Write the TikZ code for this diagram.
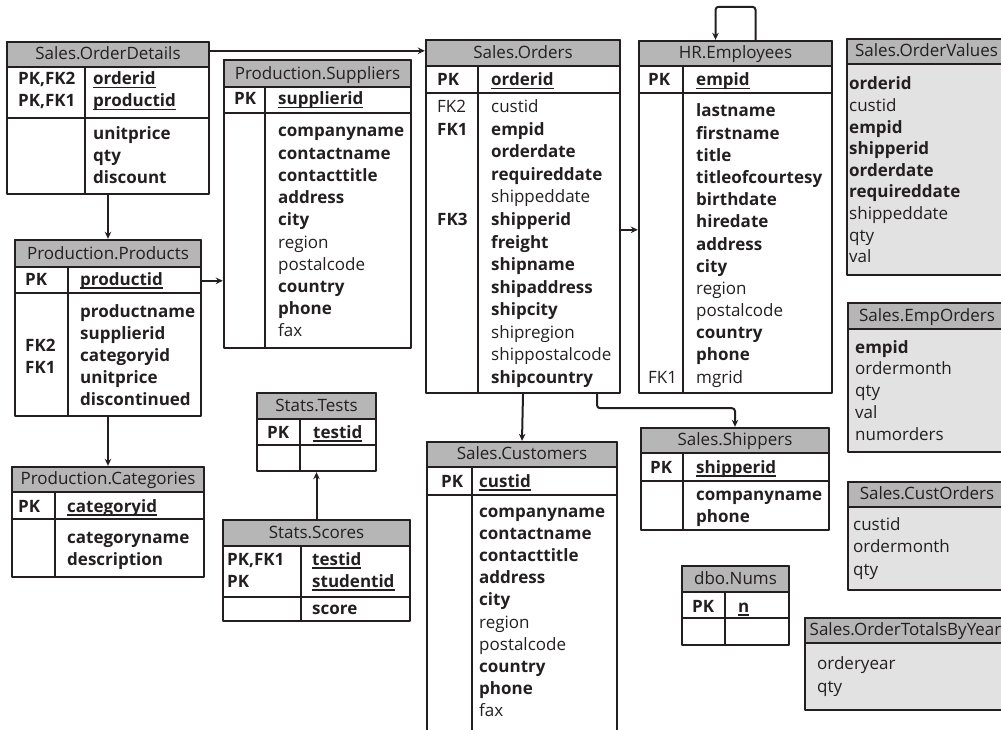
\documentclass[tikz,border=0pt]{standalone}
\usepackage{fontspec}
\setmainfont{Open Sans}
\usetikzlibrary{arrows.meta}

\definecolor{ink}{RGB}{35,31,32}
\definecolor{headgray}{RGB}{182,182,182}
\definecolor{viewgray}{RGB}{226,226,226}

\newsavebox{\pkbox}
\newcommand{\req}[1]{\textbf{#1}}
\newcommand{\pkey}[1]{\sbox{\pkbox}{\bfseries #1}\rlap{\rule[-3.5pt]{\wd\pkbox}{1.3pt}}\usebox{\pkbox}}

% table: name, left, top, right, bottom, head bottom, key bottom, divider, title
\newcommand{\ertable}[9]{%
  \node[tblframe, minimum width={(#4-#2)*1pt}, minimum height={(#5-#3)*1pt}] (#1) at ({(#2+#4)/2},{(#3+#5)/2}) {};
  \draw[tblline, fill=headgray] (#2,#3) rectangle (#4,#6);
  \node[hdr] (#1-title) at ({(#2+#4)/2},#6-7.5) {#9};
  \draw[tblline] (#2,#7) -- (#4,#7);
  \draw[tblline] (#8,#6) -- (#8,#5);
}
% view: name, left, top, right, bottom, head bottom, title
\newcommand{\erview}[7]{%
  \node[tblframe, fill=viewgray, minimum width={(#4-#2)*1pt}, minimum height={(#5-#3)*1pt}] (#1) at ({(#2+#4)/2},{(#3+#5)/2}) {};
  \draw[tblline, fill=headgray] (#2,#3) rectangle (#4,#6);
  \node[hdr] (#1-title) at ({(#2+#4)/2},#6-7.5) {#7};
}
% rows of text: prefix, x, first baseline, step, list
\newcommand{\colrows}[5]{%
  \foreach \rowtext [count=\rowno] in {#5}
    \node[fld] (#1-\rowno) at (#2,{#3+(\rowno-1)*#4}) {\rowtext};
}

\begin{document}
\begin{tikzpicture}[x=1pt, y=-1pt, line join=round, >={Stealth[length=7pt,width=6.5pt]},
  tblframe/.style={draw=ink, line width=2.4pt, inner sep=0},
  tblline/.style={draw=ink, line width=2.4pt},
  hdr/.style={anchor=base, inner sep=0, text=ink, font=\fontsize{17}{20}\selectfont},
  fld/.style={anchor=base west, inner sep=0, text=ink, font=\fontsize{17}{20}\selectfont},
  link/.style={draw=ink, line width=2pt, ->}]
\useasboundingbox (0,0) rectangle (1001,730);
\clip (0,0) rectangle (1001,730);

% 1. Sales.OrderDetails
\ertable{od}{7}{42}{209}{194}{67}{118}{85}{Sales.OrderDetails}
\colrows{od-k}{18}{85}{22}{\req{PK,FK2}, \req{PK,FK1}}
\colrows{od-pk}{93}{85}{22}{\pkey{orderid}, \pkey{productid}}
\colrows{od-f}{93}{140}{22}{\req{unitprice}, \req{qty}, \req{discount}}

% 2. Production.Products
\ertable{prod}{15}{240}{201}{416}{267}{293}{68}{Production.Products}
\colrows{prod-k}{25}{285}{22}{\req{PK}}
\colrows{prod-fk}{25}{351}{22}{\req{FK2}, \req{FK1}}
\colrows{prod-pk}{80}{285}{22}{\pkey{productid}}
\colrows{prod-f}{80}{317}{22}{\req{productname}, \req{supplierid}, \req{categoryid}, \req{unitprice}, \req{discontinued}}

% 3. Production.Categories
\ertable{cat}{12}{467}{204}{577}{492}{519}{55}{Production.Categories}
\colrows{cat-k}{18}{512}{22}{\req{PK}}
\colrows{cat-pk}{67}{512}{22}{\pkey{categoryid}}
\colrows{cat-f}{67}{543}{22}{\req{categoryname}, \req{description}}

% 4. Production.Suppliers
\ertable{sup}{224}{60}{411}{348}{87}{113}{265}{Production.Suppliers}
\colrows{sup-k}{234}{105}{22}{\req{PK}}
\colrows{sup-pk}{278}{105}{22}{\pkey{supplierid}}
\colrows{sup-f}{278}{137}{22.2}{\req{companyname}, \req{contactname}, \req{contacttitle}, \req{address}, \req{city}, region, postalcode, \req{country}, \req{phone}, fax}

% 5. Sales.Orders
\ertable{so}{426}{40}{620}{393}{66}{93}{478}{Sales.Orders}
\colrows{so-k}{437}{86}{22}{\req{PK}}
\colrows{so-pk}{491}{86}{22}{\pkey{orderid}}
\colrows{so-fk}{437}{113}{22.5}{FK2, \req{FK1}}
\colrows{so-fk3}{437}{225.5}{22.5}{\req{FK3}}
\colrows{so-f}{491}{113}{22.5}{custid, \req{empid}, \req{orderdate}, \req{requireddate}, shippeddate, \req{shipperid}, \req{freight}, \req{shipname}, \req{shipaddress}, \req{shipcity}, shipregion, shippostalcode, \req{shipcountry}}

% 6. HR.Employees
\ertable{emp}{639}{41}{832}{393}{66}{93}{683}{HR.Employees}
\colrows{emp-k}{648}{86}{22}{\req{PK}}
\colrows{emp-pk}{696}{86}{22}{\pkey{empid}}
\colrows{emp-fk}{648}{383}{22}{FK1}
\colrows{emp-f}{696}{117}{22.17}{\req{lastname}, \req{firstname}, \req{title}, \req{titleofcourtesy}, \req{birthdate}, \req{hiredate}, \req{address}, \req{city}, region, postalcode, \req{country}, \req{phone}, mgrid}

% 7. Sales.Customers (runs off the bottom)
\ertable{cust}{427}{442}{617}{731}{467}{495}{472}{Sales.Customers}
\colrows{cust-k}{441}{487}{22}{\req{PK}}
\colrows{cust-pk}{479}{487}{22}{\pkey{custid}}
\colrows{cust-f}{479}{517}{22.2}{\req{companyname}, \req{contactname}, \req{contacttitle}, \req{address}, \req{city}, region, postalcode, \req{country}, \req{phone}, fax}

% 8. Sales.Shippers
\ertable{shp}{641}{428}{829}{530}{453}{481}{683}{Sales.Shippers}
\colrows{shp-k}{650}{473}{22}{\req{PK}}
\colrows{shp-pk}{696}{473}{22}{\pkey{shipperid}}
\colrows{shp-f}{696}{500}{22}{\req{companyname}, \req{phone}}

% 9. dbo.Nums
\ertable{nums}{682}{566}{789}{645}{592}{618}{725}{dbo.Nums}
\colrows{nums-k}{692}{612}{22}{\req{PK}}
\colrows{nums-pk}{738}{612}{22}{\pkey{n}}

% 10. Stats.Tests and Stats.Scores
\ertable{tests}{257}{393}{376}{471}{419}{445}{300}{Stats.Tests}
\colrows{tests-k}{267}{438}{22}{\req{PK}}
\colrows{tests-pk}{313}{438}{22}{\pkey{testid}}
\ertable{scores}{223}{520}{410}{621}{546}{597}{301}{Stats.Scores}
\colrows{scores-k}{227}{565}{22}{\req{PK,FK1}, \req{PK}}
\colrows{scores-pk}{312}{565}{22}{\pkey{testid}, \pkey{studentid}}
\colrows{scores-f}{312}{614}{22}{\req{score}}

% 11. Views (right column, cut by the edge)
\erview{ov}{847}{39}{1006}{275}{64}{Sales.OrderValues}
\colrows{ov-f}{849}{90}{21.6}{\req{orderid}, custid, \req{empid}, \req{shipperid}, \req{orderdate}, \req{requireddate}, shippeddate, qty, val}
\erview{eo}{848}{303}{1006}{452}{329}{Sales.EmpOrders}
\colrows{eo-f}{855}{353}{21.75}{\req{empid}, ordermonth, qty, val, numorders}
\erview{co}{848}{482}{1006}{590}{507}{Sales.CustOrders}
\colrows{co-f}{853}{530}{22.5}{custid, ordermonth, qty}
\erview{oty}{805}{618}{1006}{710}{643}{Sales.OrderTotalsByYear}
\colrows{oty-f}{817}{669}{23}{orderyear, qty}

% 12. Relationships
\draw[link] ([yshift=-10pt]od.north east) -- ([yshift=-10pt]od.north east -| so.west);
\draw[link] (od.south) -- (prod.north);
\draw[link] ([yshift=-42pt]prod.north east) -- ([yshift=-42pt]prod.north east -| sup.west);
\draw[link] (prod.south) -- (cat.north);
\draw[link] ([yshift=-191pt]so.north east) -- ([yshift=-191pt]so.north east -| emp.west);
\draw[link, rounded corners=3pt] ([xshift=20pt]emp.north) -- ++(0,-33) -| ([xshift=-20pt]emp.north);
\draw[link] (so.south) -- (cust.north);
\draw[link, rounded corners=3pt] ([xshift=74pt]so.south) -- ++(0,14) -| (shp.north);
\draw[link] (scores.north) -- (tests.south);
\end{tikzpicture}
\end{document}
